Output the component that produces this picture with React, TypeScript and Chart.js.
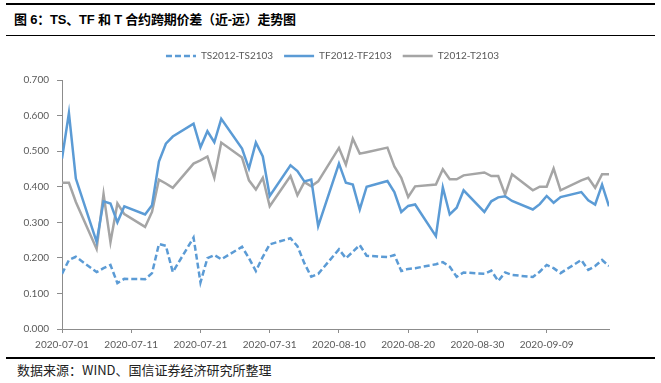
import React, { useEffect, useRef } from 'react';
import { Chart, registerables } from 'chart.js';

Chart.register(...registerables);

const dates = [
  '2020-07-01', '2020-07-02', '2020-07-03', '2020-07-06', '2020-07-07', '2020-07-08', '2020-07-09', '2020-07-10',
  '2020-07-13', '2020-07-14', '2020-07-15', '2020-07-16', '2020-07-17', '2020-07-20', '2020-07-21', '2020-07-22',
  '2020-07-23', '2020-07-24', '2020-07-27', '2020-07-28', '2020-07-29', '2020-07-30', '2020-07-31',
  '2020-08-03', '2020-08-04', '2020-08-05', '2020-08-06', '2020-08-07', '2020-08-10', '2020-08-11', '2020-08-12',
  '2020-08-13', '2020-08-14', '2020-08-17', '2020-08-18', '2020-08-19', '2020-08-20', '2020-08-21', '2020-08-24',
  '2020-08-25', '2020-08-26', '2020-08-27', '2020-08-28', '2020-08-31',
  '2020-09-01', '2020-09-02', '2020-09-03', '2020-09-04', '2020-09-07', '2020-09-08', '2020-09-09', '2020-09-10',
  '2020-09-11', '2020-09-14', '2020-09-15', '2020-09-16', '2020-09-17', '2020-09-18',
];

const tsValues = [
  0.155, 0.194, 0.203, 0.160, 0.171, 0.180, 0.129, 0.141, 0.140, 0.157, 0.239, 0.234, 0.160, 0.257, 0.131, 0.199,
  0.208, 0.196, 0.231, 0.199, 0.163, 0.203, 0.238,
  0.255, 0.233, 0.185, 0.147, 0.155, 0.224, 0.199, 0.217, 0.236, 0.206, 0.202, 0.208, 0.163, 0.169, 0.171, 0.182,
  0.188, 0.175, 0.147, 0.159, 0.155,
  0.164, 0.135, 0.159, 0.152, 0.146, 0.161, 0.180, 0.171, 0.157, 0.194, 0.166, 0.177, 0.194, 0.177,
];

const tfValues = [
  0.479, 0.607, 0.423, 0.245, 0.359, 0.353, 0.300, 0.345, 0.322, 0.348, 0.471, 0.521, 0.541, 0.577, 0.511, 0.556,
  0.525, 0.591, 0.507, 0.451, 0.524, 0.485, 0.374,
  0.460, 0.444, 0.415, 0.420, 0.289, 0.465, 0.411, 0.406, 0.336, 0.400, 0.416, 0.385, 0.329, 0.346, 0.350, 0.261,
  0.398, 0.322, 0.341, 0.390, 0.329,
  0.359, 0.370, 0.373, 0.360, 0.336, 0.351, 0.374, 0.355, 0.371, 0.385, 0.362, 0.350, 0.406, 0.345,
];

const tValues = [
  0.411, 0.411, 0.357, 0.225, 0.379, 0.244, 0.353, 0.323, 0.287, 0.329, 0.420, 0.409, 0.397, 0.465, 0.474, 0.485,
  0.425, 0.524, 0.482, 0.418, 0.392, 0.425, 0.345,
  0.430, 0.376, 0.413, 0.401, 0.415, 0.509, 0.462, 0.535, 0.493, 0.497, 0.510, 0.457, 0.425, 0.371, 0.401, 0.406,
  0.449, 0.421, 0.421, 0.432, 0.440,
  0.430, 0.430, 0.378, 0.435, 0.390, 0.400, 0.400, 0.451, 0.390, 0.418, 0.425, 0.397, 0.435, 0.435,
];

const seriesNames = ['TS2012-TS2103', 'TF2012-TF2103', 'T2012-T2103'];
const xStart = '2020-07-01';
const xEnd = '2020-09-18';
const xTickStepDays = 10;
const yMin = 0;
const yMax = 0.7;
const yStep = 0.1;

const titleText = '图 6：TS、TF 和 T 合约跨期价差（近-远）走势图';
const sourceText = '数据来源：WIND、国信证券经济研究所整理';

const DAY = 86400000;
const toUTC = (s: string) => {
  const [y, m, d] = s.split('-').map(Number);
  return Date.UTC(y, m - 1, d);
};
const START = toUTC(xStart);
const dayIndex = (s: string) => Math.round((toUTC(s) - START) / DAY);
const pad2 = (n: number) => String(n).padStart(2, '0');
const fmtDay = (v: number) => {
  const dt = new Date(START + v * DAY);
  return `${dt.getUTCFullYear()}-${pad2(dt.getUTCMonth() + 1)}-${pad2(dt.getUTCDate())}`;
};

const BLUE = '#5B9BD5';
const GRAY = '#A5A5A5';
const AXIS = '#8C8C8C';
const TEXT = '#595959';
const FONT = 'Lato, "Liberation Sans", sans-serif';

const legendTweak = {
  id: 'legendTweak',
  beforeInit(chart: any) {
    const lg = chart.legend;
    if (!lg) return;
    const orig = lg.fit;
    lg.fit = function () {
      orig.call(this);
      this.height += 9;
    };
  },
  afterLayout(chart: any) {
    const lg = chart.legend;
    if (lg) {
      lg.left = 56;
    }
  },
};

export default function App() {
  const ref = useRef<HTMLCanvasElement | null>(null);

  useEffect(() => {
    if (!ref.current) return;
    const mk = (vals: number[]) => vals.map((v, i) => ({ x: dayIndex(dates[i]), y: v }));
    const chart = new Chart(ref.current, {
      type: 'line',
      data: {
        datasets: [
          {
            label: seriesNames[0],
            data: mk(tsValues),
            borderColor: BLUE,
            backgroundColor: BLUE,
            borderWidth: 2.5,
            borderDash: [6, 3],
            pointRadius: 0,
            tension: 0,
          },
          {
            label: seriesNames[1],
            data: mk(tfValues),
            borderColor: BLUE,
            backgroundColor: BLUE,
            borderWidth: 2.5,
            pointRadius: 0,
            tension: 0,
          },
          {
            label: seriesNames[2],
            data: mk(tValues),
            borderColor: GRAY,
            backgroundColor: GRAY,
            borderWidth: 2.5,
            pointRadius: 0,
            tension: 0,
          },
        ],
      },
      options: {
        animation: false,
        responsive: false,
        devicePixelRatio: 1,
        layout: { padding: { left: 0, right: 52, top: 0, bottom: 0 } },
        plugins: {
          legend: {
            display: true,
            position: 'top',
            labels: {
              boxWidth: 30,
              boxHeight: 0,
              padding: 11,
              color: TEXT,
              font: { family: FONT, size: 10 },
            },
          },
          tooltip: { enabled: false },
        },
        scales: {
          x: {
            type: 'linear',
            min: 0,
            max: dayIndex(xEnd),
            offset: false,
            afterFit: (s: any) => {
              s.height = 26;
            },
            border: { color: AXIS, width: 1 },
            grid: { drawOnChartArea: false, color: AXIS, tickLength: 4 },
            ticks: {
              stepSize: xTickStepDays,
              includeBounds: false,
              autoSkip: false,
              maxRotation: 0,
              padding: 6,
              color: TEXT,
              font: { family: FONT, size: 10 },
              callback: (v: any) => fmtDay(Number(v)),
            },
          },
          y: {
            min: yMin,
            max: yMax,
            afterFit: (s: any) => {
              s.width = 62;
            },
            border: { color: AXIS, width: 1 },
            grid: { drawOnChartArea: false, color: AXIS, tickLength: 5 },
            ticks: {
              stepSize: yStep,
              padding: 8,
              color: TEXT,
              font: { family: FONT, size: 10 },
              callback: (v: any) => Number(v).toFixed(3),
            },
          },
        },
      },
      plugins: [legendTweak],
    } as any);
    return () => chart.destroy();
  }, []);

  return (
    <div style={{ position: 'absolute', left: 0, top: 0, width: 661, height: 383, background: '#fff', overflow: 'hidden' }}>
      <div style={{ position: 'absolute', left: 6, top: 3, width: 649, height: 2, background: '#000' }} />
      <div
        style={{
          position: 'absolute',
          left: 14,
          top: 10,
          fontFamily: '"Liberation Sans", "Noto Sans CJK SC", sans-serif',
          fontWeight: 'bold',
          fontSize: 13,
          letterSpacing: -0.2,
          lineHeight: '20px',
          color: '#000',
          whiteSpace: 'nowrap',
        }}
      >
        {titleText}
      </div>
      <div style={{ position: 'absolute', left: 6, top: 35, width: 649, height: 1, background: '#000' }} />
      <canvas
        ref={ref}
        width={661}
        height={315}
        style={{ position: 'absolute', left: 0, top: 40, width: 661, height: 315 }}
      />
      <div style={{ position: 'absolute', left: 6, top: 357, width: 649, height: 2, background: '#000' }} />
      <div
        style={{
          position: 'absolute',
          left: 17,
          top: 362,
          fontFamily: '"Noto Sans CJK SC", sans-serif',
          fontSize: 13,
          lineHeight: '16px',
          color: '#222',
          whiteSpace: 'nowrap',
        }}
      >
        {sourceText}
      </div>
    </div>
  );
}
